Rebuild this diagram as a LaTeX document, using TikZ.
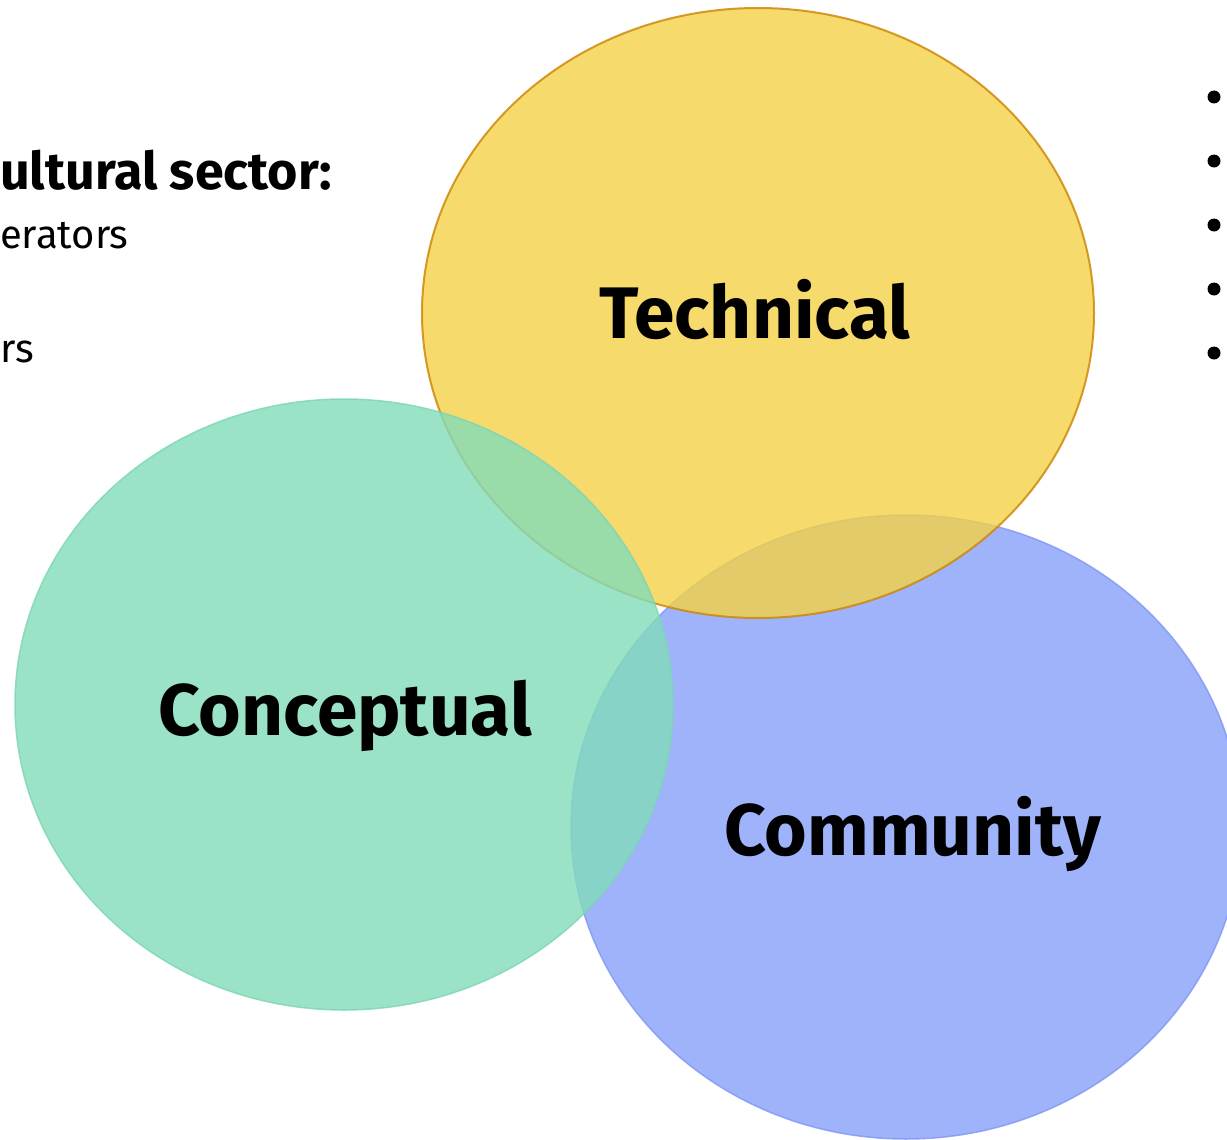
\documentclass[tikz,border=0pt]{standalone}
\usepackage{fontspec}
\setmainfont{Fira Sans}
\definecolor{yfill}{HTML}{F4D146}
\definecolor{ydraw}{HTML}{CC8400}
\definecolor{gfill}{HTML}{83DCBA}
\definecolor{gdraw}{HTML}{7BD6B4}
\definecolor{bfill}{HTML}{88A0FA}
\definecolor{bdraw}{HTML}{7F96F5}
\tikzset{
  blob/.style={fill opacity=0.8, draw opacity=0.8},
  biglabel/.style={font=\fontsize{73}{86}\selectfont\bfseries, inner sep=0pt, anchor=base west},
  sidetext/.style={font=\fontsize{40}{48}\selectfont, inner sep=0pt, anchor=base west},
  sidehead/.style={font=\fontsize{52}{60}\selectfont\bfseries, inner sep=0pt, anchor=base west},
  dot/.style={circle, fill=black, inner sep=0pt, minimum size=13pt}
}
\begin{document}
\begin{tikzpicture}[x=1pt,y=-1pt]
\useasboundingbox (0,0) rectangle (1227,1140);
\fill[white] (0,0) rectangle (1227,1140);
\clip (0,0) rectangle (1227,1140);
% side texts (clipped in reference)
\node[sidehead] (t1) at (0,189) {ultural sector:};
\node[sidetext] (t2) at (0,248) {erators};
\node[sidetext] (t3) at (0,362) {rs};
\foreach \i/\yy in {1/97,2/161,3/225,4/289,5/353}{
  \node[dot] (b\i) at (1214,\yy) {};
}
% ellipses
\path[blob, fill=bfill, draw=bdraw, line width=1.5pt] (906,827) ellipse [x radius=335pt, y radius=312pt];
\path[blob, fill=yfill, draw=ydraw, line width=2pt] (758,313) ellipse [x radius=336pt, y radius=305pt];
\path[blob, fill=gfill, draw=gdraw, line width=1.5pt] (344,704.5) ellipse [x radius=329pt, y radius=305.5pt];
\node[biglabel] (tech) at (599,338) {Technical};
\node[biglabel] (conc) at (158,735) {Conceptual};
\node[biglabel] (comm) at (724,855) {Community};
\end{tikzpicture}
\end{document}
